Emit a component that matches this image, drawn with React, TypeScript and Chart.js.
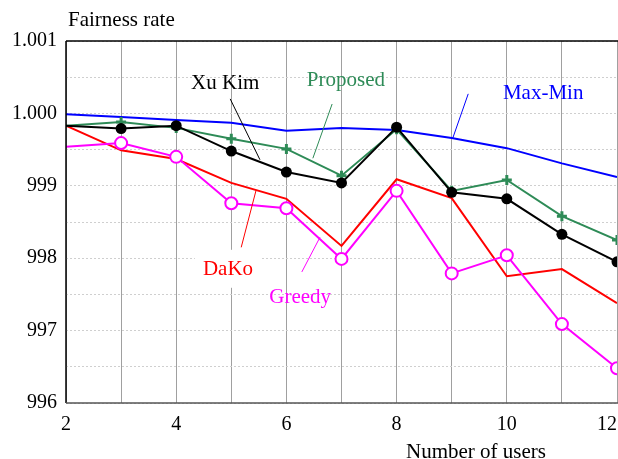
import React, { useEffect, useRef } from "react";
import { Chart, registerables } from "chart.js";

Chart.register(...registerables);

const users = [2, 3, 4, 5, 6, 7, 8, 9, 10, 11, 12];
const maxMin = [999.99, 999.95, 999.91, 999.87, 999.76, 999.8, 999.77, 999.66, 999.52, 999.31, 999.12];
const proposed = [999.83, 999.88, 999.8, 999.65, 999.51, 999.14, 999.78, 998.93, 999.08, 998.58, 998.25];
const xuKim = [999.83, 999.79, 999.83, 999.48, 999.19, 999.04, 999.81, 998.91, 998.82, 998.33, 997.95];
const daKo = [999.83, 999.49, 999.37, 999.04, 998.82, 998.17, 999.09, 998.83, 997.75, 997.85, 997.38];
const greedy = [999.54, 999.59, 999.4, 998.76, 998.69, 997.99, 998.93, 997.79, 998.04, 997.09, 996.48];

const yLabels: Record<string, string> = {
  "996": "996",
  "997": "997",
  "998": "998",
  "999": "999",
  "1000": "1.000",
  "1001": "1.001",
};
const xLabels: Record<string, string> = {
  "2": "2",
  "4": "4",
  "6": "6",
  "8": "8",
  "10": "10",
  "12": "12\u00A0\u00A0\u00A0\u00A0",
};

// annotation labels: text, color, text position (data units), leader line from/to (data units)
const annotations = [
  { text: "Xu Kim", color: "#000000", tx: 4.89, ty: 1000.41, x1: 4.98, y1: 1000.2, x2: 5.52, y2: 999.36, bg: false },
  { text: "Proposed", color: "#2e8b57", tx: 7.08, ty: 1000.46, x1: 6.83, y1: 1000.13, x2: 6.48, y2: 999.38, bg: false },
  { text: "Max-Min", color: "#0000ff", tx: 10.66, ty: 1000.28, x1: 9.3, y1: 1000.27, x2: 9.02, y2: 999.66, bg: false },
  { text: "DaKo", color: "#ff0000", tx: 4.94, ty: 997.84, x1: 5.45, y1: 998.94, x2: 5.18, y2: 998.15, bg: true },
  { text: "Greedy", color: "#ff00ff", tx: 6.25, ty: 997.46, x1: 6.61, y1: 998.29, x2: 6.28, y2: 997.81, bg: false },
];

const FONT = "'Liberation Serif', 'Times New Roman', serif";
const CANVAS_W = 647;
const CANVAS_H = 459;

function pts(vals: number[]) {
  return vals.map((v, i) => ({ x: users[i], y: v }));
}

const framePlugin = {
  id: "frame",
  afterDatasetsDraw(chart: any) {
    const { ctx, chartArea, scales } = chart;
    const xs = scales.x;
    const ys = scales.y;
    ctx.save();
    ctx.strokeStyle = "#000";
    ctx.lineWidth = 1.5;
    ctx.beginPath();
    ctx.moveTo(chartArea.left, chartArea.top);
    ctx.lineTo(chartArea.right + 20, chartArea.top);
    ctx.stroke();
    ctx.beginPath();
    ctx.moveTo(chartArea.left, chartArea.top);
    ctx.lineTo(chartArea.left, chartArea.bottom);
    ctx.stroke();
    ctx.strokeStyle = "#555";
    ctx.beginPath();
    ctx.moveTo(chartArea.left, chartArea.bottom);
    ctx.lineTo(chartArea.right + 20, chartArea.bottom);
    ctx.stroke();

    for (const a of annotations) {
      ctx.font = `21px ${FONT}`;
      const tx = xs.getPixelForValue(a.tx);
      const ty = ys.getPixelForValue(a.ty);
      if (a.bg) {
        const w = ctx.measureText(a.text).width;
        ctx.fillStyle = "#fff";
        ctx.fillRect(tx - w / 2 - 8, ty - 20, w + 16, 38);
      }
      ctx.fillStyle = a.color;
      ctx.textAlign = "center";
      ctx.textBaseline = "middle";
      ctx.fillText(a.text, tx, ty);
      ctx.strokeStyle = a.color;
      ctx.lineWidth = 1;
      ctx.beginPath();
      ctx.moveTo(xs.getPixelForValue(a.x1), ys.getPixelForValue(a.y1));
      ctx.lineTo(xs.getPixelForValue(a.x2), ys.getPixelForValue(a.y2));
      ctx.stroke();
    }

    ctx.fillStyle = "#000";
    ctx.font = `21px ${FONT}`;
    ctx.textAlign = "left";
    ctx.textBaseline = "middle";
    ctx.fillText("Fairness rate", chartArea.left + 2, chartArea.top - 21);
    ctx.font = `21px ${FONT}`;
    ctx.textAlign = "center";
    ctx.fillText("Number of users", 476, chartArea.bottom + 49);
    ctx.restore();
  },
};

export default function App() {
  const ref = useRef<HTMLCanvasElement | null>(null);
  useEffect(() => {
    document.body.style.margin = "0";
    const canvas = ref.current!;
    const chart = new Chart(canvas, {
      type: "line",
      data: {
        datasets: [
          {
            label: "Xu Kim",
            data: pts(xuKim),
            borderColor: "#000000",
            backgroundColor: "#000000",
            borderWidth: 2,
            pointRadius: users.map((u) => (u === 2 ? 0 : 5.5)),
            pointBorderWidth: 0,
            pointStyle: "circle",
          },
          {
            label: "Greedy",
            data: pts(greedy),
            borderColor: "#ff00ff",
            backgroundColor: "#ffffff",
            borderWidth: 2,
            pointRadius: users.map((u) => (u === 2 ? 0 : 6)),
            pointBorderWidth: 2,
            pointStyle: "circle",
          },
          {
            label: "Proposed",
            data: pts(proposed),
            borderColor: "#2e8b57",
            backgroundColor: "#2e8b57",
            borderWidth: 2,
            pointRadius: users.map((u) => (u === 2 ? 0 : 5)),
            pointBorderWidth: 3,
            pointStyle: "cross",
          },
          {
            label: "DaKo",
            data: pts(daKo),
            borderColor: "#ff0000",
            backgroundColor: "#ff0000",
            borderWidth: 2,
            pointRadius: 0,
          },
          {
            label: "Max-Min",
            data: pts(maxMin),
            borderColor: "#0000ff",
            backgroundColor: "#0000ff",
            borderWidth: 2,
            pointRadius: 0,
          },
        ],
      },
      plugins: [framePlugin],
      options: {
        animation: false,
        responsive: false,
        devicePixelRatio: 1,
        layout: { padding: { top: 41, left: 0, right: 0, bottom: 0 } },
        plugins: {
          legend: { display: false },
          tooltip: { enabled: false },
        },
        elements: { line: { tension: 0 } },
        scales: {
          x: {
            type: "linear",
            min: 2,
            max: 12,
            afterFit(scale: any) {
              scale.height = 56;
            },
            ticks: {
              stepSize: 1,
              autoSkip: false,
              maxRotation: 0,
              padding: 10,
              color: "#000",
              font: { family: FONT, size: 20 },
              callback: (v: any) => xLabels[String(v)] ?? "",
            },
            grid: {
              color: "#a0a0a0",
              lineWidth: 1,
              drawTicks: false,
            },
            border: { display: false },
          },
          y: {
            type: "linear",
            min: 996,
            max: 1001,
            afterFit(scale: any) {
              scale.width = 66;
            },
            ticks: {
              stepSize: 0.5,
              autoSkip: false,
              padding: 9,
              color: "#000",
              font: { family: FONT, size: 20 },
              callback: (v: any) => yLabels[String(v)] ?? "",
            },
            grid: {
              color: "#cfcfcf",
              lineWidth: 1,
              drawTicks: false,
            },
            border: { display: false, dash: [2, 2] },
          },
        },
      },
    });
    return () => chart.destroy();
  }, []);
  return (
    <div style={{ width: 618, height: CANVAS_H, overflow: "hidden", background: "#fff" }}>
      <canvas
        ref={ref}
        width={CANVAS_W}
        height={CANVAS_H}
        style={{ display: "block", width: CANVAS_W, height: CANVAS_H }}
      />
    </div>
  );
}
